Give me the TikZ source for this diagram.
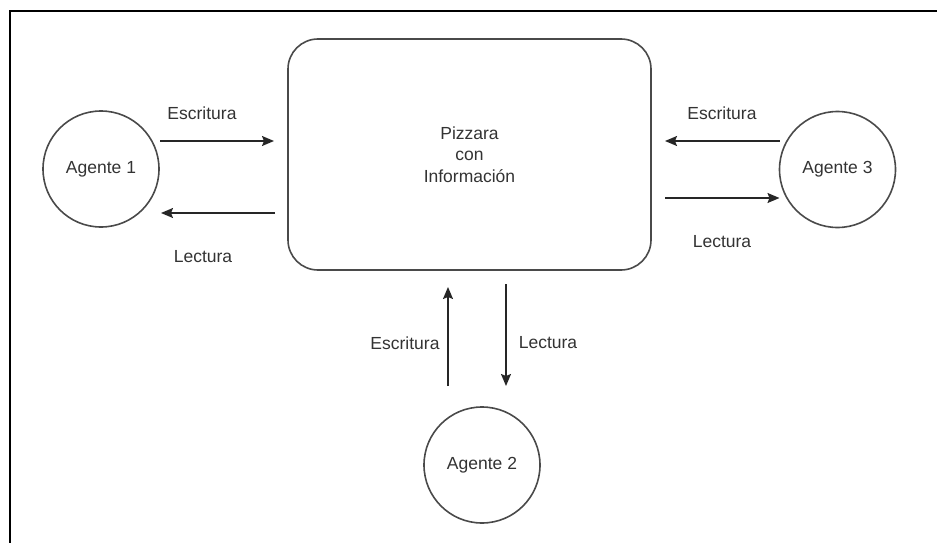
\documentclass[tikz,border=0pt]{standalone}
\usepackage{fontspec}
\setmainfont{Liberation Sans}
\usetikzlibrary{arrows.meta}
\definecolor{inkgray}{HTML}{333333}
\definecolor{edgegray}{HTML}{4A4A4A}
\begin{document}
\begin{tikzpicture}[x=1pt,y=-1pt,
  lbl/.style={text=inkgray,font=\fontsize{17.5}{21.5}\selectfont,inner sep=0pt},
  agent/.style={circle,draw=edgegray,line width=1.6pt,minimum size=116pt,inner sep=0pt,outer sep=0pt,
    text=inkgray,font=\fontsize{17.5}{21.5}\selectfont},
  board/.style={rectangle,rounded corners=30pt,draw=edgegray,line width=1.6pt,minimum width=363pt,
    minimum height=231pt,outer sep=0pt,align=center,text=inkgray,font=\fontsize{17.5}{21.5}\selectfont},
  flow/.style={draw=black!85,line width=1.6pt,-{Stealth[length=12pt,width=10pt,inset=2pt]}}]
\useasboundingbox (0,0) rectangle (937,543);
% outer frame
\draw[line width=2.4pt,black] (10,543) -- (10,11) -- (937,11);

% shared board and the three agents
\node[board] (bd) at (469.5,154.5) {Pizzara\\con\\Información};
\node[agent] (a1) at (101,169) {Agente 1};
\node[agent] (a3) at (837.5,169.5) {Agente 3};
\node[agent] (a2) at (482,465) {Agente 2};

% Agente 1 <-> board
\draw[flow] ([xshift=1pt,yshift=28pt]a1.east) -- ([xshift=-14pt,yshift=13.5pt]bd.west);
\draw[flow] ([xshift=-13pt,yshift=-58.5pt]bd.west) -- ([xshift=2pt,yshift=-44pt]a1.east);
\node[lbl] (e1) at (202,113) {Escritura};
\node[lbl] (l1) at (203,257) {Lectura};

% Agente 3 <-> board
\draw[flow] ([yshift=28.5pt]a3.west) -- ([xshift=14pt,yshift=13.5pt]bd.east);
\draw[flow] ([xshift=14pt,yshift=-43.5pt]bd.east) -- ([yshift=-28.5pt]a3.west);
\node[lbl] (e3) at (722,113) {Escritura};
\node[lbl] (l3) at (722,242) {Lectura};

% Agente 2 <-> board
\draw[flow] ([xshift=-34pt,yshift=21pt]a2.north) -- ([xshift=-21.5pt,yshift=-17pt]bd.south);
\draw[flow] ([xshift=36.5pt,yshift=-14pt]bd.south) -- ([xshift=24pt,yshift=21pt]a2.north);
\node[lbl] (e2) at (405,343) {Escritura};
\node[lbl] (l2) at (548,343) {Lectura};
\end{tikzpicture}
\end{document}
